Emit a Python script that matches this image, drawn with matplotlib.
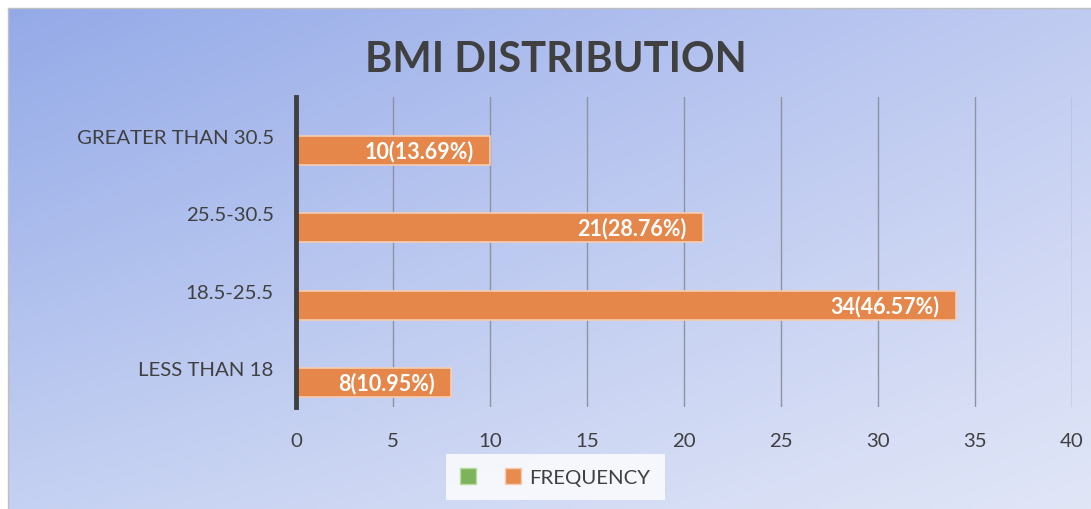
import numpy as np
import matplotlib
matplotlib.use("Agg")
import matplotlib.pyplot as plt
from matplotlib.patches import Patch

categories = ["GREATER THAN 30.5", "25.5-30.5", "18.5-25.5", "LESS THAN 18"]
frequency = [10, 21, 34, 8]
percent = [13.69, 28.76, 46.57, 10.95]
x_ticks = [0, 5, 10, 15, 20, 25, 30, 35, 40]

plt.rcParams['font.family'] = ['Lato', 'DejaVu Sans']

W, H = 1091, 510
fig = plt.figure(figsize=(W / 100, H / 100), dpi=100)
fig.patch.set_facecolor('white')

# gradient background of chart area
bg = fig.add_axes([8 / W, 0, 1 - 8 / W, (H - 9) / H])
tl = np.array([148, 170, 232]) / 255
tr = np.array([192, 203, 241]) / 255
bl = np.array([197, 209, 242]) / 255
br = np.array([225, 230, 247]) / 255
u = np.linspace(0, 1, 200)[None, :, None]
v = np.linspace(0, 1, 100)[:, None, None]
img = (1 - v) * ((1 - u) * tl + u * tr) + v * ((1 - u) * bl + u * br)
bg.imshow(img, aspect='auto', extent=[0, 1, 0, 1], interpolation='bilinear')
bg.set_xticks([]); bg.set_yticks([])
for s in bg.spines.values():
    s.set_color('#BFBFBF'); s.set_linewidth(1)
bg.spines['right'].set_visible(False)
bg.spines['bottom'].set_visible(False)

ax = fig.add_axes([296 / W, (H - 408) / H, (1072 - 296) / W, (408 - 98) / H])
ax.set_facecolor('none')
ypos = np.arange(len(categories))
h = 0.375
bars = ax.barh(ypos + h / 2, frequency, height=h, color='#E5874B',
               edgecolor='#F6CDB0', linewidth=1.2, zorder=3)
for b, f, p in zip(bars, frequency, percent):
    ax.annotate(f"{f}({p:.2f}%)", xy=(b.get_width(), b.get_y() + b.get_height() / 2),
                xytext=(-12, 0), textcoords='offset points', ha='right', va='center',
                color='white', fontsize=15.5, fontweight='bold', zorder=4)

ax.set_ylim(len(categories) - 0.5, -0.5)
ax.set_xlim(0, 40)
ax.set_yticks(ypos)
ax.set_yticklabels(categories)
ax.set_xticks(x_ticks)
ax.tick_params(axis='both', length=0, labelsize=14.7, colors='#404040')
ax.tick_params(axis='x', pad=18)
ax.tick_params(axis='y', pad=16)
ax.grid(axis='x', color='#8E93A0', linewidth=1, zorder=1)
ax.set_axisbelow(True)
for s in ['top', 'right', 'bottom']:
    ax.spines[s].set_visible(False)
ax.spines['left'].set_color('#404040')
ax.spines['left'].set_linewidth(3.5)
ax.spines['left'].set_zorder(5)

fig.text(556 / W, (H - 60) / H, "BMI DISTRIBUTION", ha='center', va='center',
         fontsize=30, fontweight='bold', color='#404040')

handles = [Patch(facecolor='#7DB35B', edgecolor='#B8DCA0'),
           Patch(facecolor='#E88B4E', edgecolor='#F6CDB0')]
leg = fig.legend(handles, ['', 'FREQUENCY'], ncol=2, loc='center',
                 bbox_to_anchor=(555 / W, (H - 478) / H), fontsize=14.7,
                 handlelength=0.8, handleheight=0.8, handletextpad=0.4,
                 columnspacing=1.0, frameon=True, fancybox=False,
                 borderpad=0.7)
leg.get_frame().set_facecolor((1, 1, 1, 0.3))
leg.get_frame().set_edgecolor('none')
for t in leg.get_texts():
    t.set_color('#404040')

fig.savefig('out.png', dpi=100)
